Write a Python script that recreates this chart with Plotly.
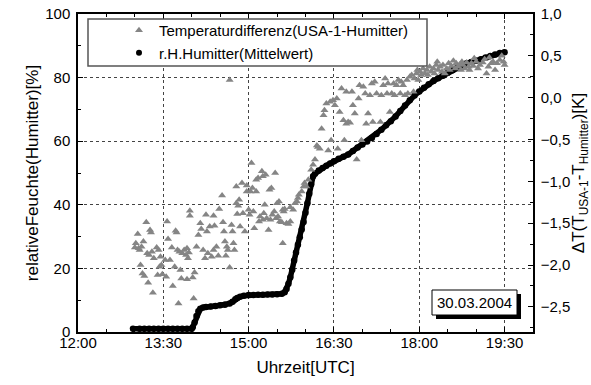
import pandas as pd
import plotly.graph_objects as go

DAY = "2004-03-30 "

# r.H. Humitter (Mittelwert) [%], left axis
rh_time = ["12:58", "13:05", "13:10", "13:15", "13:20", "13:25", "13:30", "13:35", "13:40", "13:45",
           "13:50", "13:55", "14:00", "14:01", "14:03", "14:05", "14:07", "14:09", "14:12", "14:15",
           "14:20", "14:25", "14:30", "14:35", "14:40", "14:43", "14:46", "14:48", "14:51", "14:55",
           "15:00", "15:05", "15:10", "15:15", "15:20", "15:25", "15:30", "15:35", "15:38", "15:40",
           "15:42", "15:44", "15:46", "15:48", "15:50", "15:52", "15:54", "15:56", "15:58", "16:00",
           "16:02", "16:04", "16:06", "16:08", "16:10", "16:14", "16:18", "16:22", "16:26", "16:30",
           "16:35", "16:40", "16:45", "16:50", "16:55", "17:00", "17:05", "17:10", "17:15", "17:20",
           "17:25", "17:30", "17:35", "17:40", "17:45", "17:50", "17:55", "18:00", "18:05", "18:10",
           "18:15", "18:20", "18:25", "18:30", "18:35", "18:40", "18:45", "18:50", "18:55", "19:00",
           "19:05", "19:10", "19:15", "19:20", "19:25", "19:30"]
rh_val = [1.0, 1.0, 1.0, 1.0, 1.0, 1.0, 1.0, 1.0, 1.0, 1.0,
          1.0, 1.0, 1.0, 1.5, 3.0, 5.0, 6.5, 7.3, 7.7, 7.9,
          8.0, 8.2, 8.4, 8.6, 9.0, 9.5, 10.3, 10.7, 11.1, 11.4,
          11.6, 11.6, 11.7, 11.7, 11.8, 11.8, 11.9, 12.0, 12.5, 13.5,
          15.2, 17.2, 19.6, 22.5, 25.0, 27.4, 29.8, 32.2, 34.6, 37.5,
          40.5, 43.5, 46.5, 49.0, 49.8, 50.8, 51.6, 52.3, 53.0, 53.7,
          54.5, 55.1, 55.8, 56.9, 58.0, 59.0, 59.9, 61.0, 62.3, 63.6,
          65.0, 66.3, 67.8, 69.5, 71.2, 72.9, 74.4, 75.6, 76.8, 77.9,
          78.9, 79.8, 80.6, 81.5, 82.3, 83.1, 83.9, 84.5, 84.9, 85.3,
          85.8, 86.3, 86.8, 87.3, 87.7, 88.0]

# Temperaturdifferenz (USA-1 - Humitter) [K], right axis
tri_time = ["13:00", "13:01", "13:03", "13:04", "13:05", "13:06", "13:07", "13:08", "13:09", "13:10",
            "13:12", "13:13", "13:14", "13:15", "13:16", "13:17", "13:18", "13:19", "13:20", "13:23",
            "13:24", "13:25", "13:26", "13:27", "13:28", "13:29", "13:32", "13:33", "13:34", "13:35",
            "13:37", "13:39", "13:40", "13:42", "13:43", "13:44", "13:45", "13:46", "13:47", "13:48",
            "13:49", "13:50", "13:52", "13:54", "13:55", "13:55", "13:56", "13:57", "13:58", "13:58",
            "14:01", "14:02", "14:03", "14:05", "14:07", "14:09", "14:10", "14:12", "14:14", "14:15",
            "14:16", "14:17", "14:19", "14:21", "14:23", "14:23", "14:24", "14:26", "14:28", "14:29",
            "14:32", "14:33", "14:34", "14:35", "14:36", "14:37", "14:38", "14:40", "14:40", "14:42",
            "14:43", "14:44", "14:45", "14:47", "14:47", "14:48", "14:49", "14:50", "14:51", "14:53",
            "14:54", "14:56", "14:58", "14:58", "15:00", "15:01", "15:02", "15:03", "15:04", "15:05",
            "15:06", "15:08", "15:08", "15:10", "15:11", "15:12", "15:14", "15:15", "15:15", "15:16",
            "15:17", "15:18", "15:19", "15:21", "15:22", "15:23", "15:24", "15:25", "15:27", "15:28",
            "15:29", "15:30", "15:31", "15:32", "15:33", "15:35", "15:36", "15:36", "15:37", "15:38",
            "15:40", "15:42", "15:44", "15:44", "15:47", "15:49", "15:51", "15:52", "15:53", "15:56",
            "15:58", "15:59", "16:01", "16:03", "16:06", "16:08", "16:10", "16:12", "16:13", "16:15",
            "16:17", "16:19", "16:20", "16:22", "16:24", "16:26", "16:27", "16:29", "16:31", "16:33",
            "16:34", "16:36", "16:38", "16:40", "16:41", "16:43", "16:43", "16:45", "16:47", "16:49",
            "16:50", "16:52", "16:54", "16:56", "16:57", "16:59", "17:01", "17:03", "17:04", "17:06",
            "17:08", "17:10", "17:11", "17:13", "17:15", "17:19", "17:20", "17:22", "17:24", "17:26",
            "17:27", "17:29", "17:31", "17:33", "17:34", "17:36", "17:40", "17:41", "17:43", "17:45",
            "17:47", "17:48", "17:50", "17:52", "17:54", "17:55", "17:57", "17:59", "18:01", "18:02",
            "18:04", "18:06", "18:08", "18:09", "18:11", "18:13", "18:15", "18:16", "18:18", "18:20",
            "18:22", "18:25", "18:27", "18:29", "18:31", "18:32", "18:34", "18:38", "18:39", "18:41",
            "18:43", "18:45", "18:46", "18:48", "18:50", "18:52", "18:53", "18:55", "18:57", "19:00",
            "19:04", "19:07", "19:11", "19:13", "19:16", "19:18", "19:22", "19:25", "19:29", "19:02",
            "19:09", "19:20", "19:27", "19:30", "18:36", "18:58", "19:14", "17:38", "17:58", "18:19",
            "18:24", "18:44"]
tri_dT = [-1.79, -1.74, -1.63, -1.80, -1.82, -2.00, -1.78, -2.10, -1.72, -2.13,
          -1.49, -1.86, -2.21, -1.88, -1.58, -1.61, -1.84, -2.33, -1.92, -1.79,
          -2.12, -1.82, -2.02, -1.90, -2.00, -2.11, -1.94, -2.14, -1.48, -1.69,
          -1.94, -1.79, -2.25, -2.02, -1.59, -1.61, -1.82, -2.46, -1.84, -2.06,
          -2.16, -1.86, -1.82, -1.88, -1.80, -2.17, -1.92, -1.85, -1.35, -1.41,
          -2.15, -2.40, -2.09, -1.78, -1.64, -1.50, -1.57, -1.82, -1.92, -1.40,
          -1.60, -1.86, -1.54, -1.90, -1.82, -1.41, -1.53, -1.78, -1.89, -1.33,
          -1.17, -1.49, -1.60, -1.72, -1.89, -1.78, -1.82, 0.21, -2.03, -1.52,
          -1.60, -1.74, -1.82, -1.26, -1.06, -1.39, -1.29, -1.22, -1.54, -1.02,
          -1.38, -1.60, -1.12, -1.05, -1.34, -1.40, -1.12, -0.78, -1.08, -1.36,
          -1.56, -0.98, -1.12, -0.96, -1.48, -1.42, -0.88, -1.46, -0.94, -1.38,
          -1.28, -0.92, -1.44, -1.58, -1.10, -1.46, -1.08, -1.40, -1.36, -0.90,
          -1.44, -1.26, -1.42, -1.24, -1.48, -1.49, -1.74, -1.34, -1.36, -1.33,
          -1.50, -1.51, -1.31, -1.48, -1.34, -1.26, -1.24, -1.20, -1.16, -1.12,
          -1.06, -1.02, -1.06, -0.98, -0.86, -0.80, -0.74, -0.57, -0.59, -0.61,
          -0.37, -0.21, -0.15, -0.07, -0.63, -0.05, -0.51, -0.03, -0.09, -0.01,
          -0.61, -0.17, 0.11, -0.27, -0.51, 0.07, -0.31, -0.29, -0.30, 0.07,
          -0.09, -0.19, -0.74, -0.01, 0.15, -0.51, 0.13, 0.05, -0.31, -0.19,
          0.03, 0.17, -0.29, 0.19, 0.05, -0.29, 0.03, 0.15, 0.23, 0.05,
          0.17, -0.17, 0.05, 0.17, 0.03, 0.15, 0.05, 0.19, 0.15, 0.03,
          0.21, 0.05, 0.25, 0.27, 0.07, 0.23, 0.29, 0.21, 0.31, 0.27,
          0.35, 0.29, 0.33, 0.27, 0.37, 0.31, 0.35, 0.29, 0.39, 0.33,
          0.37, 0.39, 0.29, 0.35, 0.41, 0.33, 0.38, 0.35, 0.41, 0.37,
          0.40, 0.43, 0.39, 0.35, 0.42, 0.37, 0.33, 0.41, 0.38, 0.43,
          0.39, 0.42, 0.29, 0.37, 0.41, 0.43, 0.41, 0.45, 0.43, 0.35,
          0.46, 0.33, 0.50, 0.39, 0.44, 0.47, 0.48, 0.21, 0.33, 0.43,
          0.31, 0.33]

date_label = "30.03.2004"

rh_x = pd.to_datetime([DAY + t for t in rh_time])
tri_x = pd.to_datetime([DAY + t for t in tri_time])

# plot-area geometry (pixels)
L, R, T, B = 78, 533, 14, 332
W, H = 591, 385


def px(x):
    return (x - L) / (R - L)


def py(y):
    return 1 - (y - T) / (B - T)


fig = go.Figure()
fig.add_trace(go.Scatter(
    x=tri_x, y=tri_dT, yaxis="y2", mode="markers",
    name="Temperaturdifferenz(USA-1-Humitter)",
    marker=dict(symbol="triangle-up", size=7, color="#858585", line=dict(width=0)),
))
fig.add_trace(go.Scatter(
    x=rh_x, y=rh_val, mode="lines+markers", showlegend=False,
    line=dict(color="black", width=5.5),
    marker=dict(symbol="circle", size=6.5, color="black"),
))
fig.add_trace(go.Scatter(
    x=[None], y=[None], mode="markers", name="r.H.Humitter(Mittelwert)",
    marker=dict(symbol="circle", size=6, color="black"),
))

axis_common = dict(
    showline=True, linecolor="black", linewidth=1.5,
    ticks="inside", ticklen=5, tickwidth=1, tickcolor="black",
    tickfont=dict(size=15, color="black"),
    zeroline=False, automargin=False,
)

fig.update_layout(
    width=W, height=H,
    margin=dict(l=L, r=W - R, t=T, b=H - B, pad=0),
    paper_bgcolor="white", plot_bgcolor="white",
    font=dict(family="Liberation Sans, Arial, sans-serif", size=15, color="black"),
    separators=",.",
    xaxis=dict(
        **axis_common,
        type="date",
        range=[DAY + "12:00", DAY + "20:00"],
        tick0=DAY + "12:00", dtick=90 * 60 * 1000, tickformat="%H:%M",
        mirror="ticks",
        showgrid=True, gridcolor="#444", griddash="dot", gridwidth=1,
        minor=dict(dtick=30 * 60 * 1000, ticks="inside", ticklen=3, tickcolor="black", showgrid=False),
        ticklabelstandoff=-4,
        title=dict(text="Uhrzeit[UTC]", font=dict(size=17), standoff=11),
    ),
    yaxis=dict(
        **axis_common,
        range=[0, 100], tick0=0, dtick=20,
        showgrid=True, gridcolor="#444", griddash="dot", gridwidth=1,
        minor=dict(dtick=10, ticks="inside", ticklen=3, tickcolor="black", showgrid=False),
        ticklabelstandoff=3,
        title=dict(text="relativeFeuchte(Humitter)[%]", font=dict(size=17), standoff=2),
    ),
    yaxis2=dict(
        **axis_common,
        overlaying="y", side="right",
        range=[-2.8, 1.0], tick0=0, dtick=0.5, tickformat=".1f",
        showgrid=False,
        minor=dict(dtick=0.25, ticks="inside", ticklen=3, tickcolor="black", showgrid=False),
        ticklabelstandoff=3,
        title=dict(text="ΔT(T<sub>USA-1</sub>-T<sub>Humitter</sub>)[K]", font=dict(size=17), standoff=3),
    ),
    legend=dict(
        x=px(119), y=py(14), xanchor="left", yanchor="top",
        bgcolor="rgba(0,0,0,0)", borderwidth=0,
        font=dict(size=15, color="black"), tracegroupgap=0,
    ),
    shapes=[
        dict(type="rect", xref="paper", yref="paper", layer="above",
             x0=px(88), x1=px(427), y0=py(66), y1=py(19),
             fillcolor="white", line=dict(color="#555", width=1.5)),
        dict(type="rect", xref="paper", yref="paper", layer="above",
             x0=px(436), x1=px(521), y0=py(319), y1=py(294),
             fillcolor="black", line=dict(width=0)),
        dict(type="rect", xref="paper", yref="paper", layer="above",
             x0=px(432), x1=px(517), y0=py(315), y1=py(290),
             fillcolor="white", line=dict(color="black", width=1)),
    ],
    annotations=[
        dict(text=date_label, xref="paper", yref="paper", x=px(474.5), y=py(302.5),
             xanchor="center", yanchor="middle", showarrow=False,
             font=dict(size=15, color="black")),
    ],
)

fig.write_html("out.html")
